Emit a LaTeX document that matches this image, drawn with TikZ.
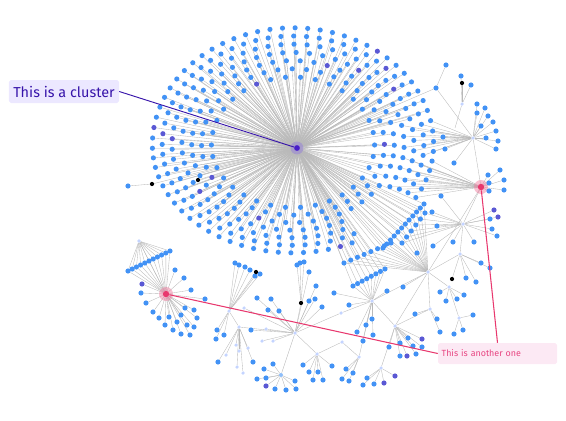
\documentclass[tikz,border=0pt]{standalone}
\usepackage{fontspec}
\setmainfont{Fira Sans}
\usetikzlibrary{positioning}

\definecolor{dotblue}{RGB}{66,146,245}
\definecolor{dotpurple}{RGB}{90,88,212}
\definecolor{paleblue}{RGB}{196,212,255}
\definecolor{edgegray}{RGB}{185,185,185}
\definecolor{hubpurple}{RGB}{72,30,200}
\definecolor{hotpink}{RGB}{232,56,110}
\definecolor{clusterfill}{RGB}{236,232,255}
\definecolor{clustertext}{RGB}{55,20,170}
\definecolor{otherfill}{RGB}{252,233,244}
\definecolor{othertext}{RGB}{232,70,130}

\pgfdeclarelayer{edges}
\pgfsetlayers{edges,main}

% edges are collected here and drawn in one go at the end
\def\edgelist{}
\newcommand{\addedge}[2]{%
  \ifx\edgelist\empty\xdef\edgelist{#1/#2}\else\xdef\edgelist{\edgelist,#1/#2}\fi}
\newcommand{\leafgroup}[4][dot]{%
  \foreach \px/\py [count=\j] in {#4}{
    \node[#1] (#3-\j) at (\px,\py) {};
    \addedge{#2}{#3-\j}
  }}

\begin{document}
\begin{tikzpicture}[x=0.03cm,y=-0.03cm,
            dot/.style={circle,fill=dotblue,inner sep=0pt,minimum size=4.4pt},
            pale dot/.style={circle,fill=paleblue,inner sep=0pt,minimum size=3pt},
            black dot/.style={dot,fill=black,minimum size=3.6pt},
            edge/.style={draw=edgegray,line width=0.3pt},
            halo/.style={circle,inner sep=0pt,minimum size=11pt,opacity=0.45},
            note/.style={rounded corners=1.5pt,inner sep=0pt},
            font=\sffamily
         ]
      \useasboundingbox (0,0) rectangle (566,420);

      \node[halo,fill=hubpurple!60] (hub halo) at (297,148) {};
      \node[circle,fill=hubpurple,inner sep=0pt,minimum size=5pt] (hub) at (297,148) {};
      \node[halo,fill=hotpink!70,minimum size=12pt] (A halo) at (481,187) {};
      \node[circle,fill=hotpink,inner sep=0pt,minimum size=5.5pt] (A) at (481,187) {};
      \node[halo,fill=hotpink!70,minimum size=12pt] (B halo) at (166,294) {};
      \node[circle,fill=hotpink,inner sep=0pt,minimum size=5.5pt] (B) at (166,294) {};
      \node[pale dot] (C) at (473,138) {};

      % the big cluster
      \foreach \k in {0,...,6}{
        \pgfmathsetmacro{\ry}{68+8.2*\k}
        \pgfmathsetmacro{\rx}{1.2*\ry}
        \pgfmathtruncatemacro{\n}{34+6*\k}
        \pgfmathsetmacro{\off}{mod(\k,2)*180/\n+4*\k}
        \foreach \i in {1,...,\n}{
          \pgfmathsetmacro{\ang}{mod(360/\n*\i+\off,360)}
          \pgfmathtruncatemacro{\gap}{(\k>2)*(\ang>30)*(\ang<62)}
          \pgfmathtruncatemacro{\toA}{(\k>2)*(\ang>=8)*(\ang<30)}
          \pgfmathtruncatemacro{\toC}{(\k>2)*((\ang>=345)+(\ang<8))}
          \pgfmathtruncatemacro{\pur}{mod(\i*13+\k*29+\i*\k,23)==0}
          \pgfmathsetmacro{\sy}{ifthenelse(sin(\ang)>0,0.92,1)}
          \ifnum\gap=0
            \ifnum\pur=1 \def\dc{dotpurple}\else\def\dc{dotblue}\fi
            \node[dot,fill=\dc] (r-\k-\i) at ({293+\rx*cos(\ang)},{145+\sy*\ry*sin(\ang)}) {};
            \ifnum\toA=1 \def\tgt{A}\else\ifnum\toC=1 \def\tgt{C}\else\def\tgt{hub}\fi\fi
            \addedge{\tgt}{r-\k-\i}
          \fi
        }
      }
      \node[black dot] (rb) at (198,180) {};
      \node[dot] (lx1) at (128,186) {};
      \node[black dot] (lx2) at (152,184) {};
      \addedge{hub}{rb}
      \addedge{lx1}{lx2}
      \addedge{lx2}{hub}

      % chains
      \node[pale dot] (q8) at (372,301) {};
      \node[pale dot] (q9) at (428,272) {};
      \node[pale dot] (q10) at (463,224) {};
      \foreach \j in {0,...,11}{
        \node[dot] (ca-\j) at ({383+41*\j/11},{248-44*\j/11}) {};
        \addedge{hub}{ca-\j}\addedge{ca-\j}{q9}
      }
      \foreach \j in {0,...,5}{
        \node[dot] (cb-\j) at ({402+23*\j/5},{243-30*\j/5}) {};
        \addedge{hub}{cb-\j}\addedge{cb-\j}{q10}
      }
      \foreach \j in {0,...,7}{
        \node[dot] (cc-\j) at ({353+32*\j/7},{286-17*\j/7}) {};
        \node[dot] (cd-\j) at ({344+47*\j/7},{263-20*\j/7}) {};
        \addedge{hub}{cc-\j}\addedge{cc-\j}{q8}
        \addedge{hub}{cd-\j}\addedge{cd-\j}{q9}
      }

      % upper right
      \node[dot] (D) at (436,88) {};
      \node[pale dot] (E) at (462,104) {};
      \coordinate (E end) at (455,128);
      \node[black dot] (e-k) at (462,83) {};
      \leafgroup{C}{c}{477/104,485/108,477/113,488/116,493/122,481/126,496/131,486/138,498/141,496/149,443/137,445/149,454/163}
      \leafgroup{A}{a}{488/175,500/170,504/180,504/190,489/183,489/191}
      \leafgroup{D}{d}{446/65}
      \leafgroup{E}{e}{461/76,471/85}
      \addedge{E}{e-k}\addedge{E}{E end}
      \addedge{hub}{D}\addedge{D}{C}\addedge{C}{A}\addedge{A}{q10}\addedge{A}{q9}

      % group round B
      \node[pale dot] (pb) at (139,241) {};
      \foreach \j in {0,...,10}{
        \node[dot] (bc-\j) at ({128+4.2*\j},{271-2*\j}) {};
        \addedge{pb}{bc-\j}\addedge{bc-\j}{B}
      }
      \leafgroup{B}{b}{175/270,184/278,191/290,205/299,185/308,194/310,197/318,187/325,194/327,190/335,181/334,173/330,177/322,181/315,169/317,165/325,159/318,153/312,146/303,141/293}
      \node[dot,fill=dotpurple] (b-p) at (142,284) {};
      \addedge{pb}{B}\addedge{B}{b-p}

      % bottom groups
      \node[pale dot] (q1) at (229,311) {};
      \node[pale dot] (q1b) at (239,327) {};
      \node[pale dot] (q2) at (295,333) {};
      \node[dot,fill=dotblue!60,minimum size=3.4pt] (q3) at (281,375) {};
      \node[pale dot] (q4) at (317,354) {};
      \node[pale dot] (q5) at (359,357) {};
      \node[pale dot] (q6) at (381,368) {};
      \node[pale dot] (q7) at (395,326) {};
      \node[pale dot] (q11) at (460,254) {};
      \node[pale dot] (q12) at (449,287) {};
      \node[pale dot] (q13) at (430,309) {};
      \node[pale dot] (q14) at (459,318) {};
      \node[black dot] (q15) at (301,303) {};
      \node[pale dot] (pm1) at (341,313) {};
      \node[pale dot] (pm2) at (342,342) {};

      \leafgroup{q1}{ga}{235/263,239/265,245/267,250/270,255/276,260/274,217/330,216/339,224/335}
      \node[black dot] (ga-k) at (256,272) {};
      \leafgroup[pale dot]{q1b}{gb}{236/345,248/348,239/351,226/355,237/367,243/373}
      \leafgroup{q1b}{gc}{218/362,253/362}
      \leafgroup{q2}{gd}{257/298,271/299,268/310,279/311,251/330,309/272,316/286,309/301,315/299,322/307}
      \leafgroup[pale dot]{q2}{ge}{244/308,266/329,262/341,273/341}
      \leafgroup{q15}{gf}{297/265,300/263,304/262}
      \leafgroup{q3}{gg}{264/369,273/364,257/379,266/378,275/389,286/390,296/389,295/381}
      \node[dot,fill=dotpurple] (gg-p) at (266,386) {};
      \leafgroup{q4}{gh}{303/365,309/372,313/380,318/372,323/380,332/366}
      \leafgroup{q5}{gi}{346/369,342/379,349/381,353/373}
      \leafgroup{q6}{gj}{367/378,363/385,374/384}
      \leafgroup[dot,fill=dotpurple]{q6}{gk}{384/383,395/376}
      \leafgroup{q7}{gl}{400/343,408/338,413/346,400/356,416/354,422/347,389/347}
      \leafgroup[dot,fill=dotpurple]{q7}{gm}{407/356,422/339}
      \leafgroup{q8}{gn}{372/319,366/325,357/332,363/341,373/335,387/291,349/305,334/293}
      \leafgroup{q9}{go}{417/253,403/287}
      \leafgroup{q10}{gp}{490/219,492/229,497/236,474/242,453/242,433/246,437/226,432/212,441/196}
      \leafgroup[dot,fill=dotpurple]{q10}{gq}{494/210,498/217}
      \leafgroup{q11}{gr}{481/263,490/268,466/278,476/282}
      \node[black dot] (gr-k) at (452,279) {};
      \leafgroup{q12}{gs}{464/295,457/299,446/301,440/292}
      \leafgroup{q13}{gt}{415/314,437/319,440/332}
      \leafgroup{q14}{gu}{473/315,463/330,454/334}
      \addedge{q1}{ga-k}\addedge{q1}{q1b}\addedge{q1b}{q2}\addedge{q2}{q3}
      \addedge{gg-p}{q3}\addedge{gr-k}{q11}
      \addedge{q15}{q2}\addedge{q2}{q4}\addedge{q4}{pm2}\addedge{pm2}{q5}\addedge{q5}{q8}
      \addedge{q2}{pm1}\addedge{pm1}{q8}\addedge{q8}{q7}\addedge{q7}{q6}
      \addedge{q8}{q9}\addedge{q9}{q7}\addedge{q7}{q13}\addedge{q13}{q9}
      \addedge{q10}{q11}\addedge{q11}{q9}\addedge{q9}{q12}\addedge{q12}{q14}

      \begin{pgfonlayer}{edges}
        \foreach \u/\v in \edgelist {\draw[edge] (\u) -- (\v);}
      \end{pgfonlayer}

      % notes
      \node[note,fill=clusterfill,text=clustertext,minimum width=3.3cm,minimum height=0.69cm,
            font=\fontsize{12.3}{14}\selectfont] (lblc) at (64,91.5) {This is a cluster};
      \node[note,fill=otherfill,text=othertext,text width=3.35cm,align=left,inner xsep=0.11cm,
            minimum height=0.63cm,font=\fontsize{7.6}{9}\selectfont] (lbla) at (497.5,353.5) {This is another one};
      \draw[clustertext,line width=0.8pt] (lblc.east) -- (hub);
      \draw[hotpink,line width=0.9pt] (lbla.west) -- (B);
      \draw[hotpink,line width=0.9pt] (lbla.north) -- (A);
   \end{tikzpicture}
\end{document}
